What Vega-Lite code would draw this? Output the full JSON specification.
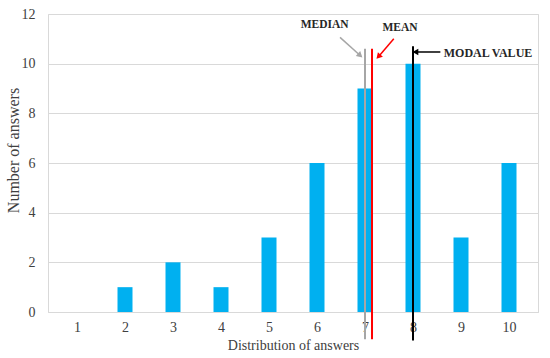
{
  "$schema": "https://vega.github.io/schema/vega-lite/v6.json",
  "autosize": "none",
  "width": 490,
  "height": 298,
  "padding": {"left": 48, "top": 14, "right": 12, "bottom": 46},
  "background": "white",
  "config": {
    "view": {"stroke": "#d9d9d9", "strokeWidth": 1},
    "font": "Liberation Serif"
  },
  "datasets": {
    "bars": [
      {"answer": 1, "count": 0},
      {"answer": 2, "count": 1},
      {"answer": 3, "count": 2},
      {"answer": 4, "count": 1},
      {"answer": 5, "count": 3},
      {"answer": 6, "count": 6},
      {"answer": 7, "count": 9},
      {"answer": 8, "count": 10},
      {"answer": 9, "count": 3},
      {"answer": 10, "count": 6}
    ],
    "lines": [
      {"name": "median", "x": 7.0, "y1": -1.1, "y2": 10.6},
      {"name": "mean", "x": 7.146, "y1": -1.1, "y2": 10.6},
      {"name": "modal", "x": 8.0, "y1": -1.15, "y2": 10.7}
    ],
    "arrows": [
      {"name": "median", "x1": 6.48, "y1": 11.06, "x2": 6.9, "y2": 10.33, "angle": 131},
      {"name": "mean", "x1": 7.6, "y1": 11.0, "x2": 7.28, "y2": 10.28, "angle": 222},
      {"name": "modal", "x1": 8.57, "y1": 10.47, "x2": 8.05, "y2": 10.47, "angle": 270}
    ],
    "labels": [
      {"name": "median", "text": "MEDIAN", "x": 6.16, "y": 11.54, "align": "center"},
      {"name": "mean", "text": "MEAN", "x": 7.73, "y": 11.44, "align": "center"},
      {"name": "modal", "text": "MODAL VALUE", "x": 8.64, "y": 10.43, "align": "left"}
    ]
  },
  "layer": [
    {
      "data": {"name": "bars"},
      "mark": {"type": "bar", "width": 15, "color": "#00b0f0"},
      "encoding": {
        "x": {
          "field": "answer", "type": "quantitative",
          "scale": {"domain": [0.5, 10.5], "nice": false, "zero": false},
          "axis": {
            "values": [1, 2, 3, 4, 5, 6, 7, 8, 9, 10],
            "title": "Distribution of answers",
            "grid": false, "ticks": false,
            "domainColor": "#d9d9d9",
            "labelFont": "Liberation Serif", "labelFontSize": 14, "labelColor": "#404040",
            "labelPadding": 8,
            "titleFont": "Liberation Serif", "titleFontSize": 14, "titleFontWeight": "normal",
            "titleColor": "#404040", "titlePadding": 4
          }
        },
        "y": {
          "field": "count", "type": "quantitative",
          "scale": {"domain": [0, 12], "nice": false},
          "axis": {
            "values": [0, 2, 4, 6, 8, 10, 12],
            "title": "Number of answers",
            "grid": true, "gridColor": "#d9d9d9",
            "ticks": false, "domain": false,
            "labelFont": "Liberation Serif", "labelFontSize": 14, "labelColor": "#404040",
            "labelPadding": 13,
            "titleFont": "Liberation Serif", "titleFontSize": 16, "titleFontWeight": "normal",
            "titleColor": "#404040", "titleX": -35, "titleY": 136, "titleBaseline": "middle", "titleAngle": -90
          }
        }
      }
    },
    {
      "data": {"name": "lines"},
      "mark": {"type": "rule", "strokeWidth": 2},
      "encoding": {
        "x": {"field": "x", "type": "quantitative"},
        "y": {"field": "y1", "type": "quantitative"},
        "y2": {"field": "y2"},
        "color": {
          "field": "name", "type": "nominal", "legend": null,
          "scale": {"domain": ["median", "mean", "modal"], "range": ["#a6a6a6", "#ff0000", "#000000"]}
        }
      }
    },
    {
      "data": {"name": "arrows"},
      "mark": {"type": "rule", "strokeWidth": 1.5},
      "encoding": {
        "x": {"field": "x1", "type": "quantitative"},
        "y": {"field": "y1", "type": "quantitative"},
        "x2": {"field": "x2"},
        "y2": {"field": "y2"},
        "color": {"field": "name", "type": "nominal", "legend": null}
      }
    },
    {
      "data": {"name": "arrows"},
      "mark": {"type": "point", "shape": "triangle-up", "filled": true, "size": 45, "opacity": 1},
      "encoding": {
        "x": {"field": "x2", "type": "quantitative"},
        "y": {"field": "y2", "type": "quantitative"},
        "angle": {"field": "angle", "type": "quantitative", "scale": null},
        "color": {"field": "name", "type": "nominal", "legend": null}
      }
    },
    {
      "data": {"name": "labels"},
      "transform": [{"filter": "datum.align === 'center'"}],
      "mark": {"type": "text", "font": "Liberation Serif", "fontWeight": "bold", "fontSize": 11.5, "color": "#262626", "baseline": "middle", "align": "center"},
      "encoding": {
        "x": {"field": "x", "type": "quantitative"},
        "y": {"field": "y", "type": "quantitative"},
        "text": {"field": "text"}
      }
    },
    {
      "data": {"name": "labels"},
      "transform": [{"filter": "datum.align === 'left'"}],
      "mark": {"type": "text", "font": "Liberation Serif", "fontWeight": "bold", "fontSize": 12, "color": "#262626", "baseline": "middle", "align": "left"},
      "encoding": {
        "x": {"field": "x", "type": "quantitative"},
        "y": {"field": "y", "type": "quantitative"},
        "text": {"field": "text"}
      }
    }
  ]
}
